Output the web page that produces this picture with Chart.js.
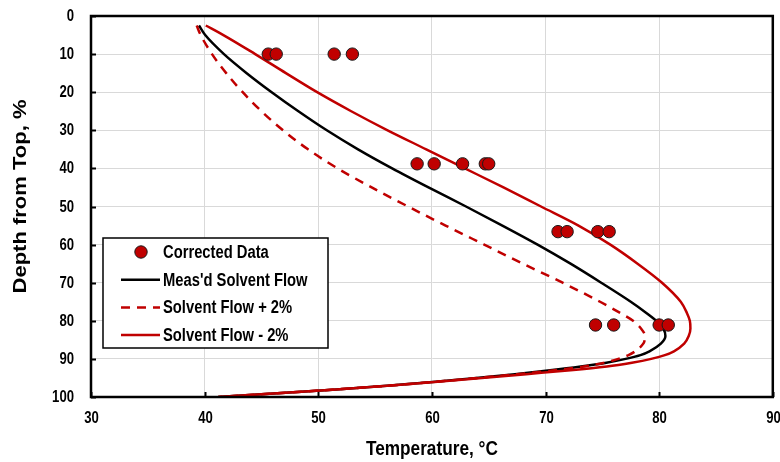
<!DOCTYPE html>
<html lang="en">
<head>
    <meta charset="UTF-8">
    <title>Temperature profile</title>
    <style>
        html, body { margin: 0; padding: 0; background: #fff; }
        #chart { display: block; }
    </style>
</head>
<body>
    <canvas id="chart" width="780" height="462"></canvas>

    <script src="https://cdn.jsdelivr.net/npm/chart.js"></script>
    <script>
        // depth from top (%) shared by the three model curves
        const depth = [2.5, 5, 10, 15, 20, 25, 30, 35, 40, 45, 50, 55, 60, 65, 70, 75, 78, 80, 82, 84, 86, 88, 89, 90, 91, 92, 93, 94, 95, 96, 97, 98, 99, 100];
        const measTemp = [39.5, 40.05, 41.7, 43.7, 45.9, 48.25, 50.75, 53.5, 56.5, 59.7, 63.0, 66.2, 69.3, 72.2, 74.9, 77.5, 78.9, 79.75, 80.35, 80.55, 80.15, 79.15, 78.35, 77.05, 75.35, 73.1, 70.4, 67.3, 63.9, 60.3, 56.3, 51.6, 46.4, 41.2];
        const plusTemp = [39.3, 39.65, 40.65, 41.9, 43.35, 45.0, 46.9, 49.1, 51.7, 54.7, 57.9, 61.2, 64.6, 68.0, 71.5, 74.8, 76.6, 77.7, 78.4, 78.75, 78.6, 77.9, 77.3, 76.4, 75.2, 73.4, 70.8, 67.5, 64.0, 60.3, 56.3, 51.6, 46.4, 41.2];
        const minusTemp = [40.1, 41.65, 44.45, 47.15, 49.9, 52.9, 56.1, 59.5, 62.9, 66.3, 69.6, 72.9, 75.7, 78.1, 80.25, 81.9, 82.45, 82.7, 82.75, 82.6, 82.2, 81.3, 80.5, 79.3, 77.6, 75.4, 72.2, 68.3, 64.4, 60.5, 56.4, 51.6, 46.4, 41.2];

        // corrected measurements
        const corrTemp = [45.6, 46.3, 51.4, 53.0, 58.7, 60.2, 62.7, 64.7, 65.0, 71.1, 71.9, 74.6, 75.6, 74.4, 76.0, 80.0, 80.8];
        const corrDepth = [10, 10, 10, 10, 38.8, 38.8, 38.8, 38.8, 38.8, 56.6, 56.6, 56.6, 56.6, 81.1, 81.1, 81.1, 81.1];

        const xTicks = [30, 40, 50, 60, 70, 80, 90];
        const yTicks = [0, 10, 20, 30, 40, 50, 60, 70, 80, 90, 100];

        const RED = '#c00000';
        const FONT = "'Liberation Sans', Arial, sans-serif";
        const SQUEEZE = 0.82;   // the original uses a narrow bold face

        const curve = (temps) => temps.map((t, i) => ({ x: t, y: depth[i] }));

        function narrowText(ctx, text, x, y, size, align) {
            ctx.save();
            ctx.translate(x, y);
            ctx.scale(SQUEEZE, 1);
            ctx.font = 'bold ' + size + 'px ' + FONT;
            ctx.fillStyle = '#000';
            ctx.textAlign = align;
            ctx.textBaseline = 'middle';
            ctx.fillText(text, 0, 0);
            ctx.restore();
        }

        // inward tick marks, frame, axis text and boxed legend
        const decorations = {
            id: 'decorations',
            afterDraw(chart) {
                const ctx = chart.ctx;
                const area = chart.chartArea;
                const xs = chart.scales.x;
                const ys = chart.scales.y;

                ctx.save();
                ctx.strokeStyle = '#000';
                ctx.lineWidth = 2;
                xTicks.forEach(v => {
                    const px = Math.round(xs.getPixelForValue(v)) + 0.5;
                    ctx.beginPath();
                    ctx.moveTo(px, area.bottom);
                    ctx.lineTo(px, area.bottom - 5);
                    ctx.stroke();
                    narrowText(ctx, String(v), px, 419, 16, 'center');
                });
                yTicks.forEach(v => {
                    const py = Math.round(ys.getPixelForValue(v)) + 0.5;
                    ctx.beginPath();
                    ctx.moveTo(area.left, py);
                    ctx.lineTo(area.left + 5, py);
                    ctx.stroke();
                    narrowText(ctx, String(v), 74, py, 16, 'right');
                });
                ctx.lineWidth = 2.5;
                ctx.strokeRect(area.left, area.top, area.right - area.left, area.bottom - area.top);
                ctx.restore();

                narrowText(ctx, 'Temperature, °C', (area.left + area.right) / 2, 449.5, 21, 'center');

                // y axis title
                ctx.save();
                ctx.translate(21, 196.5);
                ctx.rotate(-Math.PI / 2);
                ctx.scale(1, SQUEEZE);
                ctx.fillStyle = '#000';
                ctx.font = 'bold 22px ' + FONT;
                ctx.textAlign = 'center';
                ctx.textBaseline = 'middle';
                ctx.fillText('Depth from Top, %', 0, 0);
                ctx.restore();

                // legend
                const box = { left: 103, top: 238, width: 225, height: 110 };
                ctx.save();
                ctx.fillStyle = '#fff';
                ctx.fillRect(box.left, box.top, box.width, box.height);
                ctx.strokeStyle = '#000';
                ctx.lineWidth = 1.5;
                ctx.strokeRect(box.left, box.top, box.width, box.height);
                chart.data.datasets.forEach((ds, i) => {
                    const y = box.top + 14 + i * 27.7;
                    if (ds.showLine) {
                        ctx.beginPath();
                        ctx.strokeStyle = ds.borderColor;
                        ctx.lineWidth = ds.borderWidth;
                        ctx.setLineDash(ds.borderDash || []);
                        ctx.moveTo(121, y);
                        ctx.lineTo(160, y);
                        ctx.stroke();
                        ctx.setLineDash([]);
                    } else {
                        ctx.beginPath();
                        ctx.arc(141, y, ds.pointRadius, 0, Math.PI * 2);
                        ctx.fillStyle = ds.backgroundColor;
                        ctx.fill();
                        ctx.lineWidth = ds.borderWidth;
                        ctx.strokeStyle = ds.borderColor;
                        ctx.stroke();
                    }
                    narrowText(ctx, ds.label, 163, y + 1, 18, 'left');
                });
                ctx.restore();
            }
        };

        const lineStyle = {
            showLine: true,
            borderWidth: 2.5,
            pointRadius: 0,
            cubicInterpolationMode: 'monotone'
        };

        new Chart(document.getElementById('chart').getContext('2d'), {
            type: 'scatter',
            data: {
                datasets: [
                    {
                        label: 'Corrected Data',
                        data: corrTemp.map((t, i) => ({ x: t, y: corrDepth[i] })),
                        showLine: false,
                        pointRadius: 6.2,
                        backgroundColor: RED,
                        borderColor: '#1a1a1a',
                        borderWidth: 1,
                        order: 0
                    },
                    Object.assign({
                        label: "Meas'd Solvent Flow",
                        data: curve(measTemp),
                        borderColor: '#000',
                        order: 3
                    }, lineStyle),
                    Object.assign({
                        label: 'Solvent Flow + 2%',
                        data: curve(plusTemp),
                        borderColor: RED,
                        borderDash: [9, 7],
                        order: 2
                    }, lineStyle),
                    Object.assign({
                        label: 'Solvent Flow - 2%',
                        data: curve(minusTemp),
                        borderColor: RED,
                        order: 1
                    }, lineStyle)
                ]
            },
            options: {
                responsive: false,
                animation: false,
                devicePixelRatio: 1,
                indexAxis: 'y',
                layout: { padding: { left: 0, right: 5, top: 16, bottom: 0 } },
                plugins: {
                    legend: { display: false },
                    tooltip: { enabled: false }
                },
                scales: {
                    x: {
                        type: 'linear',
                        position: 'bottom',
                        min: 30,
                        max: 90,
                        afterBuildTicks: s => { s.ticks = xTicks.map(v => ({ value: v })); },
                        ticks: { display: false },
                        grid: { color: '#d9d9d9', lineWidth: 1, drawTicks: false },
                        border: { display: true, color: '#000', width: 2 },
                        afterFit: s => { s.height = 65; s.paddingLeft = 0; s.paddingRight = 0; }
                    },
                    y: {
                        type: 'linear',
                        position: 'left',
                        reverse: true,
                        min: 0,
                        max: 100,
                        afterBuildTicks: s => { s.ticks = yTicks.map(v => ({ value: v })); },
                        ticks: { display: false },
                        grid: { color: '#d9d9d9', lineWidth: 1, drawTicks: false },
                        border: { display: true, color: '#000', width: 2 },
                        afterFit: s => { s.width = 91; s.paddingTop = 0; s.paddingBottom = 0; }
                    }
                }
            },
            plugins: [decorations]
        });
    </script>
</body>
</html>
